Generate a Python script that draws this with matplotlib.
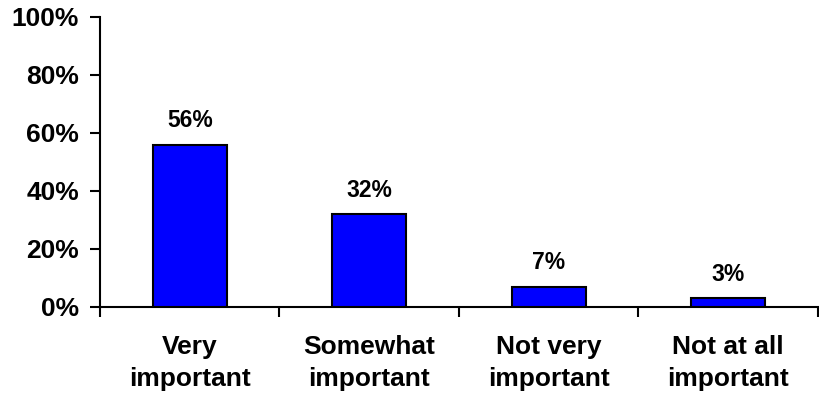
"""Bar chart: importance ratings."""

import matplotlib.pyplot as plt
import numpy as np
from matplotlib.ticker import FixedLocator, PercentFormatter

categories = ["Very\nimportant", "Somewhat\nimportant", "Not very\nimportant", "Not at all\nimportant"]
values = [56, 32, 7, 3]
value_labels = ["56%", "32%", "7%", "3%"]

plt.rcParams["font.family"] = ["Liberation Sans", "DejaVu Sans"]
plt.rcParams["font.weight"] = "bold"

fig = plt.figure(figsize=(8.2, 3.96), dpi=100)
ax = fig.add_axes([100 / 820, 1 - 307 / 396, 718 / 820, 290 / 396])

x = np.arange(len(categories))
ax.bar(x, values, width=0.41, color="#0000FF", edgecolor="black", linewidth=1.5, zorder=3)
for xi, v, lab in zip(x, values, value_labels):
    ax.text(xi, v + 4.3, lab, ha="center", va="bottom", fontsize=16.5, fontweight="bold")

ax.set_xlim(-0.5, len(categories) - 0.5)
ax.set_ylim(0, 100)
ax.set_yticks(range(0, 101, 20))
ax.yaxis.set_major_formatter(PercentFormatter(decimals=0))
ax.tick_params(axis="y", direction="out", length=7, width=1.5, labelsize=19, pad=8)

# category labels centred, tick marks at the boundaries
ax.set_xticks(x)
ax.set_xticklabels(categories, fontsize=19, fontweight="bold", linespacing=1.45)
ax.tick_params(axis="x", which="major", length=0, pad=20)
ax.xaxis.set_minor_locator(FixedLocator(np.arange(-0.5, len(categories), 1.0)))
ax.tick_params(axis="x", which="minor", direction="out", length=7, width=1.5)

for side in ("top", "right"):
    ax.spines[side].set_visible(False)
for side in ("left", "bottom"):
    ax.spines[side].set_linewidth(1.5)

fig.savefig("out.png", dpi=100)
